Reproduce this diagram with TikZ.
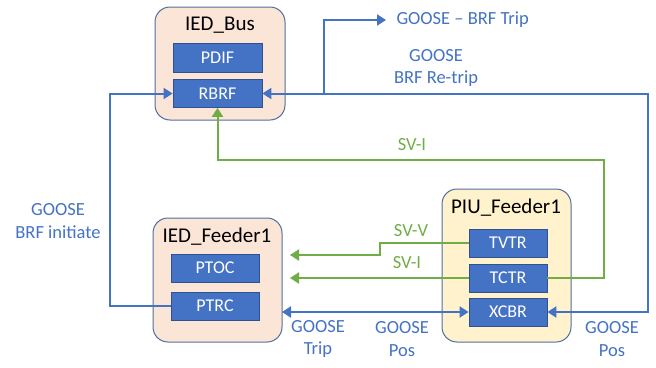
\documentclass[tikz,border=0pt]{standalone}
\usepackage{fontspec}
\setmainfont{Carlito}
\usetikzlibrary{arrows.meta}
\definecolor{obl}{HTML}{4472C4}
\definecolor{obld}{HTML}{2F528F}
\definecolor{ogr}{HTML}{70AD47}
\definecolor{ied}{HTML}{FBE5D6}
\definecolor{piu}{HTML}{FFF2CC}
\definecolor{frame}{HTML}{4F6FA0}
\tikzset{
  holder/.style={draw=frame, line width=1pt, rounded corners=15pt},
  ln/.style={draw=obld, line width=0.8pt, fill=obl, text=white, inner sep=0pt,
    font=\fontsize{18}{21}\selectfont},
  title/.style={font=\fontsize{21}{25}\selectfont, text=black},
  bline/.style={obl, line width=2pt},
  gline/.style={ogr, line width=2pt},
  tip/.style={-{Triangle[length=9pt,width=11pt]}},
  tips/.style={{Triangle[length=9pt,width=11pt]}-{Triangle[length=9pt,width=11pt]}},
  blbl/.style={text=obl, font=\fontsize{18.5}{22.5}\selectfont, align=center},
  glbl/.style={text=ogr, font=\fontsize{18.5}{22.5}\selectfont, align=center},
}
\begin{document}
\begin{tikzpicture}[x=1pt,y=-1pt]
\useasboundingbox (0,0) rectangle (656,367);

% containers
\node[holder, fill=ied, minimum width=130pt, minimum height=113pt] (bus) at (220,63.5) {};
\node[holder, fill=ied, minimum width=129pt, minimum height=124pt] (fdr) at (217.5,280) {};
\node[holder, fill=piu, minimum width=129pt, minimum height=153pt] (piu) at (506.5,265.5) {};

\node[title] (busT) at (220,25) {IED\_Bus};
\node[title] (fdrT) at (217,237) {IED\_Feeder1};
\node[title] (piuT) at (506,208) {PIU\_Feeder1};

% logical nodes
\node[ln, minimum width=89pt, minimum height=29pt] (pdif) at (217.5,57.5) {PDIF};
\node[ln, minimum width=89pt, minimum height=28pt] (rbrf) at (217.5,93.5) {RBRF};
\node[ln, minimum width=88pt, minimum height=28pt] (ptoc) at (215,268) {PTOC};
\node[ln, minimum width=88pt, minimum height=28pt] (ptrc) at (215,306) {PTRC};
\node[ln, minimum width=78pt, minimum height=28pt] (tvtr) at (508,243) {TVTR};
\node[ln, minimum width=78pt, minimum height=28pt] (tctr) at (508,278) {TCTR};
\node[ln, minimum width=78pt, minimum height=28pt] (xcbr) at (508,312) {XCBR};

% routing points
\coordinate (lx) at (110,0);
\coordinate (rx) at (648,0);
\coordinate (bx) at (324,0);
\coordinate (trip) at (386,20);
\coordinate (gx) at (604,0);
\coordinate (gy) at (0,160);
\coordinate (vx) at (380,0);
\coordinate (vy) at (0,255);
\coordinate (fin) at (282,0);
\coordinate (sv) at (290,0);

% BRF initiate
\draw[bline, tip] (ptrc.west) -- (ptrc.west -| lx) -- (lx |- rbrf.west) -- (rbrf.west);
% BRF re-trip and breaker position
\draw[bline, tips] (rbrf.east) -- (rbrf.east -| rx) -- (rx |- xcbr.east) -- (xcbr.east);
\draw[bline, tip] (rbrf.east -| bx) -- (bx |- trip) -- (trip);
% trip / position between feeder IED and PIU
\draw[bline, tips] (xcbr.west -| fin) -- (xcbr.west);

% sampled values
\draw[gline, tip] (tctr.east) -- (tctr.east -| gx) -- (gx |- gy) -- (gy -| rbrf.south) -- (rbrf.south);
\draw[gline, tip] (tvtr.west) -- (tvtr.west -| vx) -- (vx |- vy) -- (vy -| sv);
\draw[gline, tip] (tctr.west) -- (tctr.west -| sv);

% labels
\node[blbl, anchor=west] (lTrip) at (393,20) {GOOSE – BRF Trip};
\node[blbl] (lRetrip) at (436,68) {GOOSE\\BRF Re-trip};
\node[blbl] (lInit) at (58,221) {GOOSE\\BRF initiate};
\node[glbl] (lSVI1) at (412,145) {SV-I};
\node[glbl] (lSVV) at (411,231) {SV-V};
\node[glbl] (lSVI2) at (407,263) {SV-I};
\node[blbl] (lGT) at (318,339) {GOOSE\\Trip};
\node[blbl] (lGP) at (402,339) {GOOSE\\Pos};
\node[blbl] (lGP2) at (612,339) {GOOSE\\Pos};
\end{tikzpicture}
\end{document}
